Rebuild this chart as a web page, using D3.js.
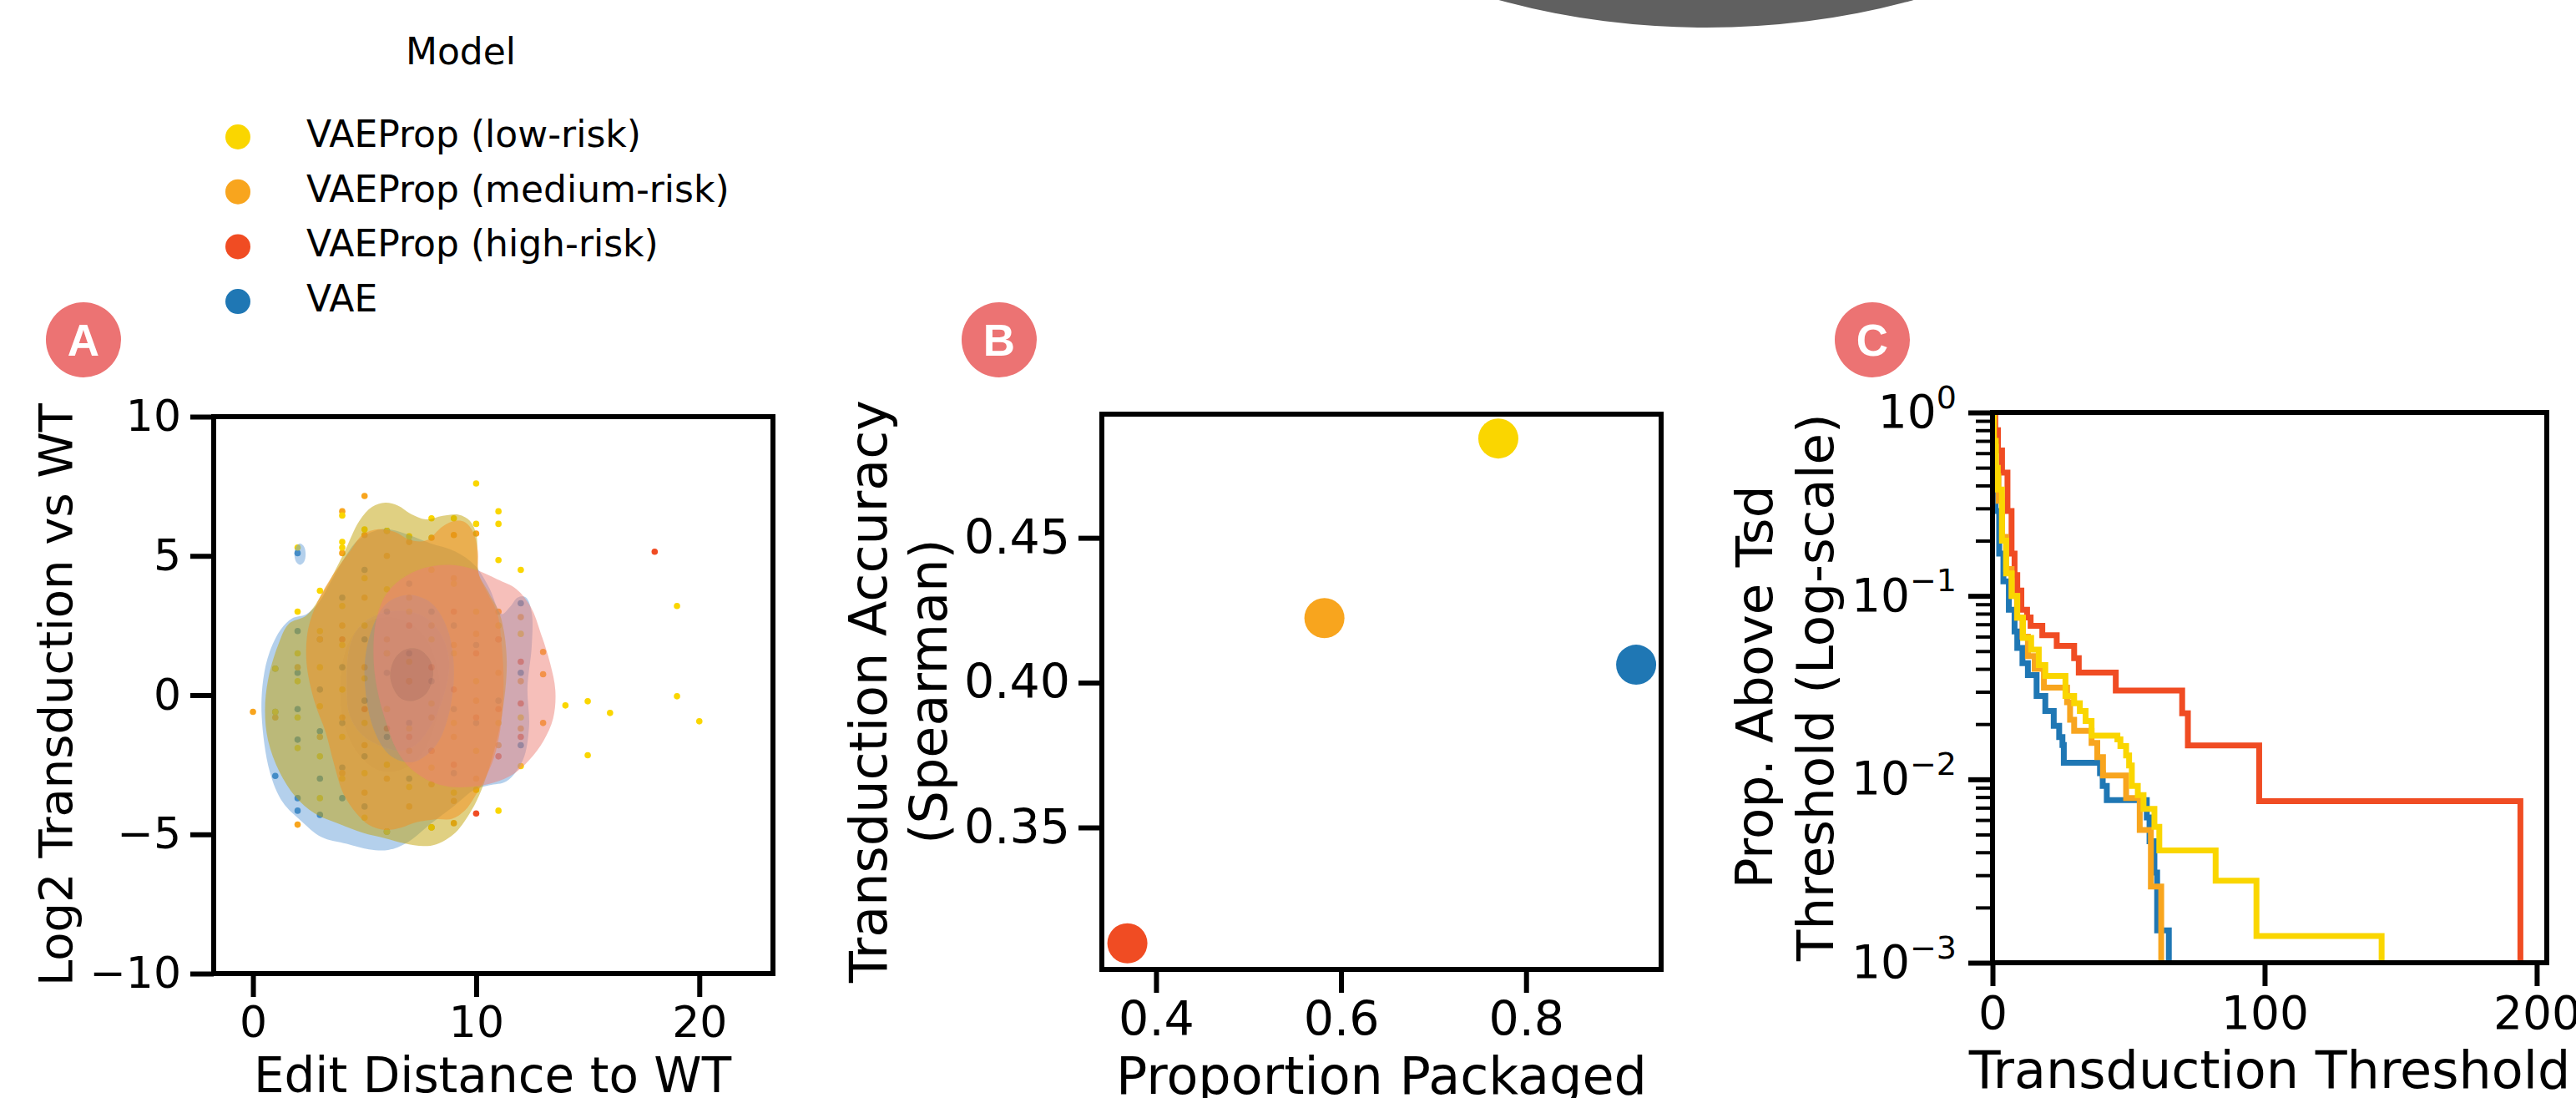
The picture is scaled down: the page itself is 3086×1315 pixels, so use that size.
<!DOCTYPE html>
<html>
<head>
<meta charset="utf-8">
<script src="https://cdn.jsdelivr.net/npm/d3@7"></script>
<style>
  body { margin: 0; background: #fff; }
  svg { display: block; }
</style>
</head>
<body>
<script>
// ---- data ----
var models = ["VAEProp (low-risk)", "VAEProp (medium-risk)", "VAEProp (high-risk)", "VAE"];
var modelColors = ["#fad600", "#f8a51e", "#f04c23", "#1f77b4"];

// panel A: scatter (edit distance, log2 transduction)
var lowPts = [[1,0.95],[1,-0.6],[2,5.3],[2,3.0],[2,1.5],[2,0.5],[2,-0.8],[2,-1.9],[3,3.75],[3,2.3],[3,1.0],[3,-0.4],[3,-2.2],[3,-3.7],
  [4,6.45],[4,5.5],[4,5.3],[4,3.2],[4,1.8],[4,0.2],[4,-1.5],[4,-3.0],[5,5.95],[5,4.2],[5,2.5],[5,0.6],[5,-1.0],[5,-2.8],[5,-4.4],
  [6,5.9],[6,3.8],[6,1.5],[6,-0.5],[6,-2.5],[6,-4.9],[7,5.7],[7,3.0],[7,1.2],[7,-1.2],[7,-3.3],[8,6.35],[8,4.5],[8,2.0],[8,-0.3],
  [8,-2.6],[8,-4.75],[9,6.35],[9,4.0],[9,1.5],[9,-1.0],[9,-3.5],[10,7.6],[10,6.15],[10,3.0],[10,0.5],[10,-2.0],[10,-3.4],
  [11,6.6],[11,6.15],[11,4.85],[11,2.5],[11,-1.0],[11,-4.15],[12,4.5],[12,2.2],[12,-0.8],[12,-2.55],[14,-0.37],[15,-0.22],
  [15,-2.16],[16,-0.64],[19,3.2],[19,-0.04],[20,-0.94]];
var medPts = [[0,-0.6],[1,-0.8],[2,-4.65],[2,1.0],[3,2.0],[3,-1.5],[4,6.6],[4,5.1],[4,2.5],[4,-0.8],[4,-2.8],[5,7.15],[5,5.75],
  [5,3.5],[5,1.0],[5,-1.8],[5,-3.5],[6,5.0],[6,2.0],[6,-0.5],[6,-3.0],[6,-4.9],[7,5.5],[7,3.5],[7,0.5],[7,-2.0],[7,-4.0],
  [8,5.65],[8,2.5],[8,-0.8],[8,-3.2],[8,-4.75],[9,5.75],[9,4.2],[9,1.8],[9,-1.5],[9,-3.8],[9,-4.6],[10,5.8],[10,2.2],[10,-0.2],
  [10,-3.0],[11,3.0],[11,0.8],[11,-1.8],[12,2.8],[12,0.5],[12,-1.2],[13,1.55],[13,0.75],[13,-1.0]];
var highPts = [[4,2.0],[5,-0.5],[6,1.5],[6,-1.2],[7,2.5],[7,0.5],[7,-1.5],[8,1.0],[8,-2.0],[9,3.0],[9,0.2],[9,-2.5],[10,1.5],
  [10,-0.8],[10,-4.25],[11,2.0],[11,-0.5],[11,-2.2],[12,1.2],[12,-0.3],[12,-1.5],[18,5.15]];
var vaePts = [[1,0.95],[1,-0.6],[1,-2.9],[2,5.1],[2,2.3],[2,0.8],[2,-0.5],[2,-1.6],[2,-3.7],[2,-4.15],[3,2.0],[3,0.2],[3,-1.3],
  [3,-3.0],[3,-4.3],[4,3.5],[4,1.0],[4,-1.0],[4,-2.6],[4,-3.7],[5,4.5],[5,2.0],[5,-0.2],[5,-2.2],[5,-4.0],[6,5.9],[6,3.0],
  [6,0.8],[6,-1.5],[6,-4.9],[7,4.0],[7,1.5],[7,-1.0],[7,-3.0],[8,3.0],[8,0.5],[8,-2.0],[9,2.5],[9,-0.5],[9,-2.8],[10,1.8],
  [10,-1.0],[11,2.0],[11,-0.2],[12,3.3],[12,0.8],[12,-1.8]];

// panel A: kde contour outlines (outer level, inner level) in data units
var vaeOuter = [[0.39,-0.74],[0.46,0.56],[0.75,1.56],[1.25,2.36],[1.76,2.76],[2.4,2.91],[2.98,3.36],[3.48,4.06],[4.05,4.86],
  [4.7,5.56],[5.49,5.91],[6.06,5.96],[6.78,5.81],[7.93,5.46],[9.07,5.16],[9.94,4.66],[10.58,3.86],[11.15,2.91],[11.51,3.16],
  [11.87,3.51],[12.23,3.51],[12.49,2.96],[12.49,1.76],[12.3,0.26],[12.37,-1.14],[12.09,-2.34],[11.37,-3.09],[10.58,-3.24],
  [9.94,-3.39],[9.07,-3.94],[7.93,-4.64],[6.92,-5.29],[6.06,-5.56],[5.2,-5.54],[4.2,-5.34],[3.05,-5.09],[2.19,-4.54],
  [1.33,-3.84],[0.75,-2.74]];
var vaeIsland = [[2.11,5.44],[2.29,5.33],[2.36,5.06],[2.29,4.79],[2.11,4.68],[1.93,4.79],[1.86,5.06],[1.93,5.33]];
var vaeInner = [[3.9,0.0],[4.1,1.5],[4.6,2.3],[5.3,2.7],[6.2,2.8],[7.0,2.6],[7.7,2.1],[8.2,1.2],[8.4,0.0],[8.1,-1.2],
  [7.5,-2.2],[6.6,-2.7],[5.6,-2.7],[4.7,-2.1],[4.1,-1.1]];
var lowOuter = [[0.54,-0.54],[0.68,0.56],[1.11,1.76],[1.61,2.56],[2.4,2.86],[3.19,3.76],[4.05,5.06],[4.77,6.26],[5.34,6.76],
  [5.92,6.91],[6.49,6.81],[7.07,6.51],[7.78,6.31],[8.5,6.44],[9.22,6.48],[9.72,6.26],[10.01,5.76],[10.05,4.96],[10.11,4.36],
  [10.58,3.66],[11.08,2.86],[11.37,1.26],[11.15,-0.74],[10.72,-2.24],[10.22,-3.44],[9.79,-4.14],[9.07,-4.94],[8.21,-5.36],
  [7.64,-5.42],[6.78,-5.32],[5.92,-5.14],[4.91,-4.94],[3.91,-4.64],[2.76,-4.24],[1.9,-3.64],[1.18,-2.74],[0.68,-1.64]];
var lowInner = [[4.2,0.36],[4.34,1.76],[4.77,2.46],[5.49,2.86],[6.35,3.01],[7.21,2.96],[7.93,2.66],[8.5,2.06],[8.79,1.16],
  [8.57,0.06],[8.07,-0.94],[7.35,-1.74],[6.63,-1.99],[5.77,-1.84],[4.91,-1.44],[4.34,-0.74]];
var medOuter = [[2.4,1.16],[2.47,2.36],[2.9,3.36],[3.62,4.36],[4.34,5.16],[4.91,5.76],[5.63,5.96],[6.35,5.86],[7.07,5.56],
  [7.78,5.56],[8.5,6.06],[9.07,6.26],[9.5,6.21],[9.86,5.86],[10.08,5.16],[10.11,4.36],[10.51,3.66],[10.94,2.96],[11.15,1.76],
  [11.23,0.26],[11.08,-1.24],[10.8,-2.24],[10.37,-3.04],[9.94,-3.64],[9.5,-4.14],[8.93,-4.44],[8.21,-4.46],[7.35,-4.56],
  [6.63,-4.76],[5.92,-4.84],[5.2,-4.66],[4.63,-4.24],[4.05,-3.54],[3.62,-2.44],[3.26,-1.34],[2.76,-0.24]];
var medInner = [[5.0,0.8],[5.3,2.3],[6.0,3.3],[7.0,3.6],[8.0,3.3],[8.7,2.4],[9.0,1.0],[8.8,-0.6],[8.2,-1.8],[7.2,-2.4],
  [6.2,-2.2],[5.4,-1.2]];
var highOuter = [[5.41,1.16],[5.49,2.56],[5.92,3.56],[6.63,4.16],[7.64,4.56],[8.79,4.68],[9.94,4.51],[10.94,4.16],[11.8,3.81],
  [12.45,3.16],[12.88,2.26],[13.31,1.16],[13.55,0.16],[13.45,-0.84],[13.02,-1.64],[12.37,-2.34],[11.66,-2.84],[10.8,-3.14],
  [9.79,-3.29],[8.79,-3.29],[7.93,-3.09],[7.07,-2.64],[6.42,-1.94],[5.99,-1.04],[5.63,-0.04]];
var highInner = [[6.16,0.61],[6.35,1.3],[6.85,1.64],[7.42,1.64],[7.9,1.3],[8.07,0.8],[7.8,0.1],[7.2,-0.2],[6.6,-0.1]];

// panel B: proportion packaged vs spearman
var propPackaged = [0.770, 0.582, 0.369, 0.919];
var spearman = [0.4843, 0.4223, 0.310, 0.4062];

// panel C: proportion above threshold, steps [threshold, proportion]
var survLow = [[0,1],[0.5,0.7],[1.2,0.5],[1.94,0.38],[3.47,0.2],[5,0.1325],[7.06,0.1],[9.1,0.076],[11.2,0.059],[14.2,0.051],
  [17,0.042],[19.4,0.0366],[26.8,0.0285],[30,0.026],[32.1,0.0236],[34.2,0.0208],[36.4,0.0173],[45.9,0.0165],[47,0.0152],
  [49.1,0.0135],[50.2,0.0119],[51.2,0.0092],[53.4,0.0082],[55.5,0.0069],[59.5,0.0055],[61.3,0.0041],[82,0.0028],[97,0.0014],[143,0]];
var survMed = [[0,1],[0.5,0.65],[1.3,0.45],[2.2,0.33],[3.5,0.21],[5,0.14],[7,0.1],[9,0.076],[11,0.06],[13,0.047],[15.5,0.04],
  [18.9,0.0316],[27.4,0.0263],[28.5,0.0211],[30,0.0184],[36.4,0.0158],[38.5,0.0132],[40.6,0.0105],[49.1,0.0079],[54.1,0.0053],
  [58.2,0.0026],[62,0]];
var survHigh = [[0,1],[1,0.8],[2,0.62],[3.5,0.47],[5.5,0.29],[7,0.17],[8.1,0.13],[9.1,0.107],[10.6,0.084],[12.7,0.0763],
  [14,0.0687],[18.3,0.061],[23.6,0.0534],[30,0.0458],[31.7,0.0382],[45.3,0.0305],[69.7,0.0229],[71.8,0.0153],[98,0.0076],[194,0]];
var survVae = [[0,1],[0.3,0.6],[0.6,0.4],[1.1,0.29],[2.45,0.17],[4,0.12],[6,0.084],[8.1,0.064],[9.1,0.052],[11,0.043],
  [13,0.037],[16.2,0.0285],[19.4,0.0236],[22.5,0.0196],[24.5,0.017],[25.7,0.0154],[26.2,0.0123],[39.5,0.0108],[40.5,0.0092],
  [42,0.0077],[56.7,0.0062],[57.7,0.0046],[59.5,0.0031],[60.5,0.0015],[64.8,0]];

var ticksA_x = [0, 10, 20], ticksA_y = [-10, -5, 0, 5, 10];
var ticksB_x = [0.4, 0.6, 0.8], ticksB_y = [0.35, 0.40, 0.45];
var ticksC_x = [0, 100, 200], ticksC_y = [1e-3, 1e-2, 1e-1, 1];

// ---- drawing ----
var FONT = "'DejaVu Sans', sans-serif";
var svg = d3.select("body").append("svg")
    .attr("width", 3086).attr("height", 1315)
    .attr("font-family", FONT);

// grey shape cut by the top edge
svg.append("ellipse").attr("cx", 2044).attr("cy", -367).attr("rx", 625).attr("ry", 400).attr("fill", "#606060");

// panel badges
[["A", 100], ["B", 1197], ["C", 2243]].forEach(function(b) {
    svg.append("circle").attr("cx", b[1]).attr("cy", 407).attr("r", 45).attr("fill", "#ec7373");
    svg.append("text").attr("x", b[1]).attr("y", 426).attr("text-anchor", "middle")
        .attr("font-family", "'Liberation Sans', Arial, sans-serif").attr("font-weight", "bold")
        .attr("font-size", 53).attr("fill", "#fff").text(b[0]);
});

// legend
svg.append("text").attr("x", 552).attr("y", 77).attr("text-anchor", "middle").attr("font-size", 44).text("Model");
models.forEach(function(m, i) {
    svg.append("circle").attr("cx", 285).attr("cy", 164 + i * 65.7).attr("r", 15).attr("fill", modelColors[i]);
    svg.append("text").attr("x", 367).attr("y", 176 + i * 65.5).attr("font-size", 44).text(m);
});

function styleAxis(g, fs) {
    g.select(".domain").remove();
    g.attr("font-family", FONT).attr("font-size", fs);
    g.selectAll(".tick line").attr("stroke", "#000").attr("stroke-width", 6);
    g.selectAll(".tick text").attr("fill", "#000");
}

function frame(box) {
    svg.append("rect").attr("x", box.l).attr("y", box.t)
        .attr("width", box.r - box.l).attr("height", box.b - box.t)
        .attr("fill", "none").attr("stroke", "#000").attr("stroke-width", 6);
}

function xLabel(text, x, y, fs) {
    svg.append("text").attr("x", x).attr("y", y).attr("text-anchor", "middle").attr("font-size", fs).text(text);
}

function yLabel(lines, yc, fs) {
    lines.forEach(function(l) {
        svg.append("text").attr("transform", "translate(" + l[1] + "," + yc + ") rotate(-90)")
            .attr("text-anchor", "middle").attr("font-size", fs).text(l[0]);
    });
}

function clip(id, box) {
    svg.append("clipPath").attr("id", id).append("rect")
        .attr("x", box.l).attr("y", box.t).attr("width", box.r - box.l).attr("height", box.b - box.t);
}

// ---------- panel A ----------
var boxA = {l: 256, r: 926, t: 499, b: 1166};
var xA = d3.scaleLinear().domain([-1.76, 23.3]).range([boxA.l, boxA.r]);
var yA = d3.scaleLinear().domain([-10, 10]).range([boxA.b, boxA.t]);
clip("clipA", boxA);
var gA = svg.append("g").attr("clip-path", "url(#clipA)");

// scatter underneath the density fills
[[vaePts, 3], [highPts, 2], [medPts, 1], [lowPts, 0]].forEach(function(s) {
    gA.append("g").selectAll("circle").data(s[0]).enter().append("circle")
        .attr("cx", function(d) { return xA(d[0]); })
        .attr("cy", function(d) { return yA(d[1]); })
        .attr("r", 3.8).attr("fill", modelColors[s[1]]);
});

var ring = d3.line().curve(d3.curveCatmullRomClosed.alpha(0.5))
    .x(function(d) { return xA(d[0]); }).y(function(d) { return yA(d[1]); });

// each model: outer band (with hole) + inner level, like filled contour bands
var kde = [
    {outer: [vaeOuter, vaeIsland], inner: vaeInner, c1: "#69a1d9", c2: "#5a8cc8"},
    {outer: [lowOuter], inner: lowInner, c1: "#c1a105", c2: "#aa9120"},
    {outer: [medOuter], inner: medInner, c1: "#f48e1e", c2: "#bd815b"},
    {outer: [highOuter], inner: highInner, c1: "#ed7f75", c2: "#d26a68"}
];
kde.forEach(function(k) {
    var d = k.outer.map(function(r) { return ring(r); }).join("") + ring(k.inner);
    gA.append("path").attr("d", d).attr("fill", k.c1).attr("fill-rule", "evenodd").attr("fill-opacity", 0.5);
    gA.append("path").attr("d", ring(k.inner)).attr("fill", k.c2).attr("fill-opacity", 0.5);
});

svg.append("g").attr("transform", "translate(0," + boxA.b + ")")
    .call(d3.axisBottom(xA).tickValues(ticksA_x).tickSize(28).tickPadding(11).tickFormat(d3.format("d")))
    .call(styleAxis, 52);
svg.append("g").attr("transform", "translate(" + boxA.l + ",0)")
    .call(d3.axisLeft(yA).tickValues(ticksA_y).tickSize(28).tickPadding(11).tickFormat(d3.format("d")))
    .call(styleAxis, 52);
frame(boxA);
xLabel("Edit Distance to WT", 590, 1308, 58);
yLabel([["Log2 Transduction vs WT", 86]], 832, 56);

// ---------- panel B ----------
var boxB = {l: 1320, r: 1990, t: 496, b: 1161};
var xB = d3.scaleLinear().domain([0.3414, 0.946]).range([boxB.l, boxB.r]);
var yB = d3.scaleLinear().domain([0.301, 0.4927]).range([boxB.b, boxB.t]);
clip("clipB", boxB);
svg.append("g").attr("clip-path", "url(#clipB)").selectAll("circle")
    .data(models).enter().append("circle")
    .attr("cx", function(d, i) { return xB(propPackaged[i]); })
    .attr("cy", function(d, i) { return yB(spearman[i]); })
    .attr("r", 24).attr("fill", function(d, i) { return modelColors[i]; });

svg.append("g").attr("transform", "translate(0," + boxB.b + ")")
    .call(d3.axisBottom(xB).tickValues(ticksB_x).tickSize(28).tickPadding(11).tickFormat(d3.format(".1f")))
    .call(styleAxis, 57);
svg.append("g").attr("transform", "translate(" + boxB.l + ",0)")
    .call(d3.axisLeft(yB).tickValues(ticksB_y).tickSize(28).tickPadding(10).tickFormat(d3.format(".2f")))
    .call(styleAxis, 57);
frame(boxB);
xLabel("Proportion Packaged", 1655, 1310, 62);
yLabel([["Transduction Accuracy", 1062], ["(Spearman)", 1134]], 828, 62);

// ---------- panel C ----------
var boxC = {l: 2387, r: 3051, t: 494, b: 1153};
var xC = d3.scaleLinear().domain([0, 203.7]).range([boxC.l, boxC.r]);
var yC = d3.scaleLog().domain([1e-3, 1]).range([boxC.b, boxC.t]);
clip("clipC", boxC);
var gC = svg.append("g").attr("clip-path", "url(#clipC)");
var step = d3.line().curve(d3.curveStepAfter)
    .x(function(d) { return xC(d[0]); })
    .y(function(d) { return yC(Math.max(d[1], 1e-4)); });
[[survVae, 3], [survHigh, 2], [survMed, 1], [survLow, 0]].forEach(function(s) {
    gC.append("path").attr("d", step(s[0])).attr("fill", "none")
        .attr("stroke", modelColors[s[1]]).attr("stroke-width", 7).attr("stroke-linejoin", "miter");
});

var minorC = yC.ticks().filter(function(v) { return ticksC_y.indexOf(v) < 0; });
svg.append("g").attr("transform", "translate(" + boxC.l + ",0)")
    .call(d3.axisLeft(yC).tickValues(minorC).tickSize(20).tickFormat(""))
    .call(styleAxis, 55)
    .selectAll(".tick line").attr("stroke-width", 4);
var yAxC = svg.append("g").attr("transform", "translate(" + boxC.l + ",0)")
    .call(d3.axisLeft(yC).tickValues(ticksC_y).tickSize(29).tickPadding(14).tickFormat(function() { return "10"; }))
    .call(styleAxis, 55);
yAxC.selectAll(".tick text").append("tspan")
    .attr("dy", "-0.62em").attr("font-size", 38)
    .text(function(d) { var e = Math.round(Math.log10(d)); return e === 0 ? "0" : "\u2212" + Math.abs(e); });
svg.append("g").attr("transform", "translate(0," + boxC.b + ")")
    .call(d3.axisBottom(xC).tickValues(ticksC_x).tickSize(28).tickPadding(12).tickFormat(d3.format("d")))
    .call(styleAxis, 55);
frame(boxC);
xLabel("Transduction Threshold", 2719, 1303, 62);
yLabel([["Prop. Above Tsd", 2123], ["Threshold (Log-scale)", 2196]], 823, 61);
</script>
</body>
</html>
